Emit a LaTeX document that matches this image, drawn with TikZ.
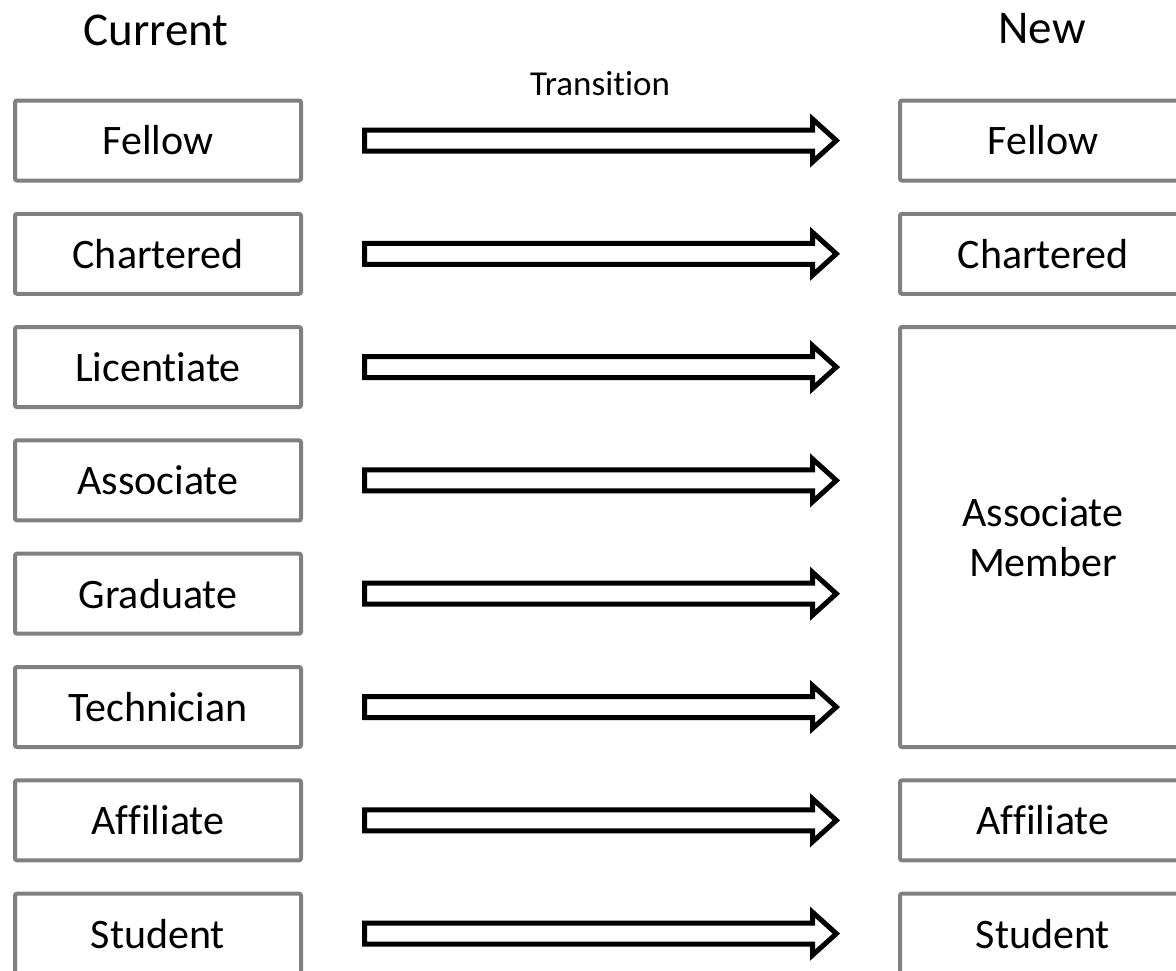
\documentclass[tikz,border=0pt]{standalone}
\usepackage{fontspec}
\setmainfont[Ligatures={CommonOff}]{Carlito}
\usetikzlibrary{positioning,calc}

\definecolor{boxgray}{RGB}{128,128,128}

\tikzset{
  box/.style={draw=boxgray, line width=2pt, rounded corners=1pt,
    minimum width=143pt, minimum height=40pt, outer sep=0pt, inner sep=0pt,
    align=center, font=\fontsize{21pt}{25pt}\selectfont},
  heading/.style={font=\fontsize{23.5pt}{28pt}\selectfont},
  fatarrow/.style={draw=black, line width=2.5pt, line join=miter, to path={
    let \p1=(\tikztostart), \p2=(\tikztotarget) in
    (\x1+31.75pt,\y1+5.25pt) -- (\x2-43.75pt,\y1+5.25pt) -- (\x2-43.75pt,\y1+10.75pt)
    -- (\x2-31.85pt,\y1) -- (\x2-43.75pt,\y1-10.75pt) -- (\x2-43.75pt,\y1-5.25pt)
    -- (\x1+31.75pt,\y1-5.25pt) -- cycle}}
}

\begin{document}
\begin{tikzpicture}[x=0.5pt,y=-0.5pt]
\path[use as bounding box,clip] (0,0) rectangle (1176,970);
% Headings
\node[heading] (curHead) at (156,30) {Current};
\node[heading] (newHead) at (1042,29) {New};
\node[font=\fontsize{17.5pt}{21pt}\selectfont] (transHead) at (600,84) {Transition};
% Current grades
\foreach \nm/\lbl [count=\i from 0] in {fellow/Fellow,chartered/Chartered,licentiate/Licentiate,associate/Associate,graduate/Graduate,technician/Technician,affiliate/Affiliate,student/Student}{
  \node[box] (L-\nm) at (158,{140.5+113.3*\i}) {\lbl};
}
% New grades
\node[box] (R-fellow) at (1043,140.5) {Fellow};
\node[box] (R-chartered) at (1043,253.8) {Chartered};
\node[box,minimum height=210pt] (R-assoc) at (1043,537) {Associate\\Member};
\node[box] (R-affiliate) at (1043,820.3) {Affiliate};
\node[box] (R-student) at (1043,933.6) {Student};
% Transition arrows
\foreach \nm/\tgt in {fellow/fellow,chartered/chartered,licentiate/assoc,associate/assoc,graduate/assoc,technician/assoc,affiliate/affiliate,student/student}{
  \draw[fatarrow] (L-\nm.east) to (R-\tgt.west);
}
\end{tikzpicture}
\end{document}
